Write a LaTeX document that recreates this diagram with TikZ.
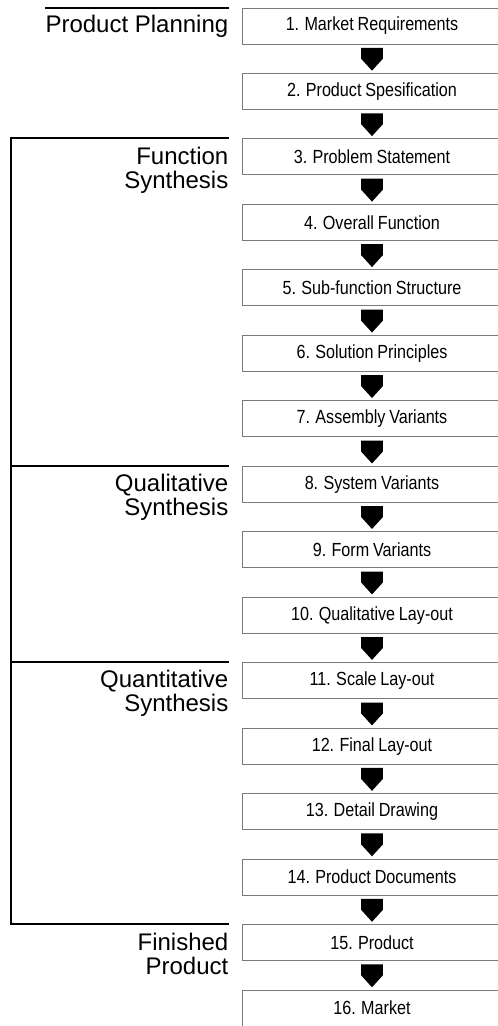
\documentclass[tikz,border=0pt]{standalone}
\usepackage{fontspec}
\usepackage{tikz}
\usepackage{xcolor}
\usetikzlibrary{positioning, calc}
\setmainfont{Liberation Sans}
\newfontfamily\cajafont[FakeStretch=0.85, WordSpace=0.85]{Liberation Sans}
\definecolor{bordegris}{HTML}{7A7A7A}

\begin{document}
\begin{tikzpicture}[
        x=1pt, y=-1pt,
        caja/.style={draw=bordegris, line width=1pt, fill=white,
            minimum width=260pt, minimum height=36pt, inner sep=2pt,
            font=\cajafont\fontsize{19}{22}\selectfont},
        etapa/.style={font=\fontsize{24}{24}\selectfont, align=right, inner sep=0pt},
        linea/.style={line width=2pt},
        flecha/.style={fill=black, to path={
            ([xshift=-10.8pt, yshift=-3.3pt]\tikztostart.south) -- ++(21.6pt,0)
            -- ++(0,-11pt) -- ([yshift=2.3pt]\tikztotarget.north)
            -- ([xshift=-10.8pt, yshift=-14.3pt]\tikztostart.south) -- cycle}}
    ]
        % Marco de la figura
        \useasboundingbox (0,0) rectangle (498,1026);
        \clip (0,0) rectangle (498,1026);

        % Cajas de las etapas
        \node[caja] (box_1) at (372,26) {1. Market Requirements};
        \node[caja, below=28.47pt of box_1] (box_2) {2. Product Spesification};
        \node[caja, below=28.47pt of box_2] (box_3) {3. Problem Statement};
        \node[caja, below=28.47pt of box_3] (box_4) {4. Overall Function};
        \node[caja, below=28.47pt of box_4] (box_5) {5. Sub-function Structure};
        \node[caja, below=28.47pt of box_5] (box_6) {6. Solution Principles};
        \node[caja, below=28.47pt of box_6] (box_7) {7. Assembly Variants};
        \node[caja, below=28.47pt of box_7] (box_8) {8. System Variants};
        \node[caja, below=28.47pt of box_8] (box_9) {9. Form Variants};
        \node[caja, below=28.47pt of box_9] (box_10) {10. Qualitative Lay-out};
        \node[caja, below=28.47pt of box_10] (box_11) {11. Scale Lay-out};
        \node[caja, below=28.47pt of box_11] (box_12) {12. Final Lay-out};
        \node[caja, below=28.47pt of box_12] (box_13) {13. Detail Drawing};
        \node[caja, below=28.47pt of box_13] (box_14) {14. Product Documents};
        \node[caja, below=28.47pt of box_14] (box_15) {15. Product};
        \node[caja, below=28.47pt of box_15] (box_16) {16. Market};

        % Flechas entre cajas
        \foreach \i in {1,...,15} {
            \pgfmathtruncatemacro{\j}{\i+1}
            \fill[flecha] (box_\i) to (box_\j);
        }

        % Etiquetas de las fases
        \node[etapa, left=13pt of box_1] (planning) {Product Planning};
        \node[etapa, left=13pt of box_3, yshift=-13pt] (function) {Function\\Synthesis};
        \node[etapa, left=13pt of box_8, yshift=-13pt] (qualitative) {Qualitative\\Synthesis};
        \node[etapa, left=13pt of box_11, yshift=-13pt] (quantitative) {Quantitative\\Synthesis};
        \node[etapa, left=13pt of box_15, yshift=-11pt] (finished) {Finished\\Product};

        % Lineas de separacion
        \coordinate (rx) at ([xshift=-13pt]box_1.west);
        \coordinate (lx) at (11,0);
        \draw[linea] (planning.west |- box_1.north) -- (rx |- box_1.north);
        \draw[linea] (rx |- box_3.north) -- (lx |- box_3.north)
            -- (lx |- box_15.north) -- (rx |- box_15.north);
        \draw[linea] (lx |- box_8.north) -- (rx |- box_8.north);
        \draw[linea] (lx |- box_11.north) -- (rx |- box_11.north);
    \end{tikzpicture}
\end{document}
